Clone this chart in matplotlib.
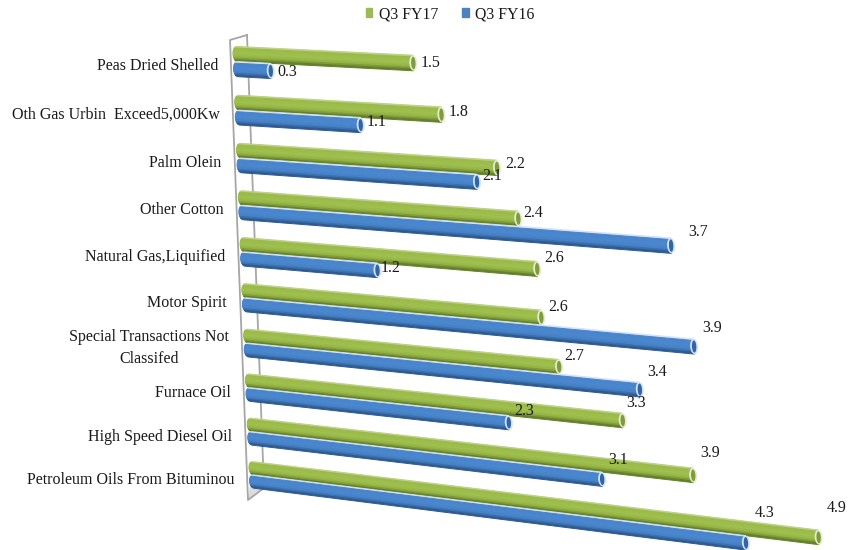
import numpy as np
import matplotlib
matplotlib.use("Agg")
import matplotlib.pyplot as plt
from matplotlib.colors import LinearSegmentedColormap
from matplotlib.patches import Patch
from matplotlib.transforms import Transform

categories = ["Peas Dried Shelled", "Oth Gas Urbin  Exceed5,000Kw", "Palm Olein", "Other Cotton",
              "Natural Gas,Liquified", "Motor Spirit", "Special Transactions Not\nClassifed",
              "Furnace Oil", "High Speed Diesel Oil", "Petroleum Oils From Bituminou"]
# they round to the printed labels
q3_fy17 = [1.54, 1.77, 2.24, 2.41, 2.56, 2.58, 2.72, 3.26, 3.86, 4.94]
q3_fy16 = [0.29, 1.06, 2.06, 3.74, 1.16, 3.91, 3.42, 2.26, 3.06, 4.30]

# where the data labels sit, in pixels
green_label_pos = [(431, 63), (459, 112), (515, 164), (533, 213), (554, 258),
                   (558, 307), (574, 356), (636, 403), (710, 453), (837, 508)]
blue_label_pos = [(287, 72), (377, 122), (492, 176), (698, 232), (391, 268),
                  (712, 328), (657, 372), (524, 411), (618, 460), (765, 513)]

green_map = LinearSegmentedColormap.from_list("g", [(0, "#bcd184"), (0.12, "#9aba48"), (0.5, "#9fc04e"),
                                                    (0.78, "#93b243"), (1, "#64802c")])
blue_map = LinearSegmentedColormap.from_list("b", [(0, "#d5e3f5"), (0.12, "#4784cc"), (0.5, "#4a87cf"),
                                                   (0.78, "#4480c5"), (1, "#2f5a90")])

bar_half = 0.155
cap_w = 0.035
n_strips = 9


class BarPlane(Transform):
    # (value, category position) -> picture pixels, fakes the tilted 3d floor
    input_dims = 2
    output_dims = 2

    def transform_non_affine(self, values):
        values = np.asarray(values, dtype=float)
        v, c = values[:, 0], values[:, 1]
        px = 237 + 1.78 * c + 114.5 * v
        slope = 0.051 + 0.0079 * c
        py = 54 + 49 * c - 0.33 * c ** 2 + slope * 114.5 * v
        return np.column_stack([px, py])


fig = plt.figure(figsize=(8.52, 5.5), dpi=100)
ax = fig.add_axes([0, 0, 1, 1])
ax.set_xlim(0, 852)
ax.set_ylim(550, 0)
ax.axis("off")
plane = BarPlane() + ax.transData
font = {"family": "Liberation Serif", "color": "#1a1a1a"}

# back wall frame
ax.fill([248, 264, 263, 250], [500, 488, 484, 484], color="#dcdcdc", lw=0, zorder=1)
ax.plot([247, 230, 248, 264, 247], [35, 40, 500, 488, 35], color="#a6a6a6", lw=1.3, zorder=1)


def draw_bar(value, center, cmap, rim, inner):
    edges = np.linspace(-bar_half, bar_half, n_strips + 1)
    for i in range(n_strips):
        col = cmap(i / (n_strips - 1))
        tt = np.linspace(edges[i], edges[i + 1], 5)
        round_off = cap_w * np.sqrt(np.clip(1 - (tt / bar_half) ** 2, 0, 1))
        vs = np.concatenate([-round_off, np.full(5, value)])
        cs = np.concatenate([center + tt, center + tt[::-1]])
        ax.fill(vs, cs, color=col, lw=0.7, transform=plane, zorder=3)
    ang = np.linspace(0, 2 * np.pi, 40)
    ax.fill(value + cap_w * np.cos(ang), center + bar_half * np.sin(ang), color=rim, lw=0,
            transform=plane, zorder=4)
    ax.fill(value + 0.55 * cap_w * np.cos(ang), center + 0.8 * bar_half * np.sin(ang), color=inner, lw=0,
            transform=plane, zorder=5)


for i in range(len(categories)):
    draw_bar(q3_fy17[i], i, green_map, "#e4edd0", "#7f9c3a")
    draw_bar(q3_fy16[i], i + 0.31, blue_map, "#d5e3f5", "#2f66a8")

    x0, y0 = BarPlane().transform_non_affine(np.array([[0.0, i]]))[0]
    ax.text(x0 - 19, y0 + 12, categories[i], ha="right", va="center", multialignment="center",
            fontsize=11.5, linespacing=1.5, fontdict=font, zorder=6)
    ax.text(*green_label_pos[i], f"{q3_fy17[i]:.1f}", ha="center", va="center", fontsize=11.5, fontdict=font, zorder=6)
    ax.text(*blue_label_pos[i], f"{q3_fy16[i]:.1f}", ha="center", va="center", fontsize=11.5, fontdict=font, zorder=6)

handles = [Patch(color="#9bbb59", label="Q3 FY17"), Patch(color="#4f81bd", label="Q3 FY16")]
ax.legend(handles=handles, ncol=2, loc="center", bbox_to_anchor=(0.5285, 0.9745), frameon=False,
          handlelength=0.42, handleheight=0.5, handletextpad=0.42, columnspacing=1.5,
          prop={"family": "Liberation Serif", "size": 11.4}, labelcolor="#1a1a1a")

fig.savefig("out.png", dpi=100)
